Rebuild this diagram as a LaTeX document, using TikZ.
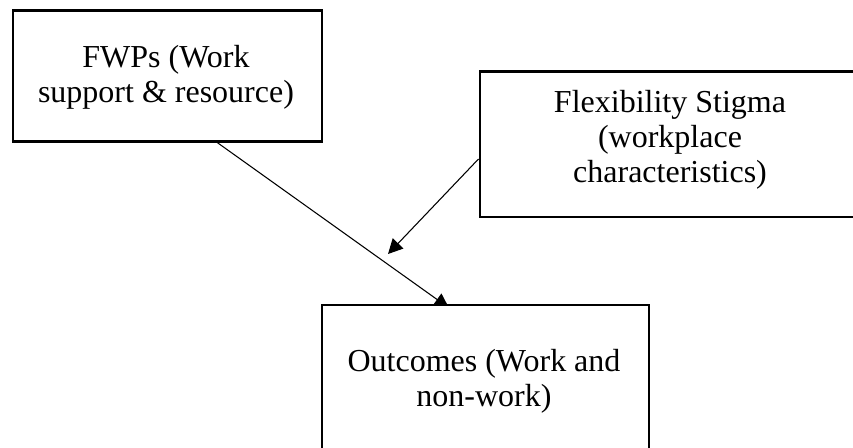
\documentclass[tikz,border=0pt]{standalone}
\usepackage{fontspec}
\setmainfont{Liberation Serif}
\usetikzlibrary{arrows.meta,calc,backgrounds}
\begin{document}
\begin{tikzpicture}[x=0.75pt,y=-0.75pt,
  box/.style={draw=black,line width=1.6pt,fill=white,rectangle,inner sep=0pt,anchor=north west},
  lbl/.style={align=center,anchor=base,inner sep=0pt,font=\fontsize{24pt}{26.6pt}\selectfont},
  conn/.style={draw=black,line width=0.8pt,-{Triangle[length=11pt,width=11pt]}}]
\useasboundingbox (0,0) rectangle (853,448);
\clip (0,0) rectangle (853,448);
% boxes
\node[box,minimum width=231.75pt,minimum height=98.25pt] (b1) at (12,9.5) {};
\node[box,minimum width=290.6pt,minimum height=109.1pt] (b2) at (478.5,70.5) {};
\node[box,minimum width=245.6pt,minimum height=124.5pt] (b3) at (320.5,304) {};
% texts (anchored at the baseline of their last line)
\node[lbl] (t1) at (166,103) {FWPs (Work\\support \& resource)};
\node[lbl] (t2) at (670,183) {Flexibility Stigma\\(workplace\\characteristics)};
\node[lbl] (t3) at (484,407) {Outcomes (Work and\\non-work)};
% connectors
\coordinate (m) at (388,254);
\begin{pgfonlayer}{background}
\draw[conn] ($(b1.south west)!0.66!(b1.south east)$) -- ($(b3.north west)+(128.5,4)$);
\draw[conn] ($(b2.north west)+(0,88.5)$) -- (m);
\end{pgfonlayer}
\end{tikzpicture}
\end{document}
